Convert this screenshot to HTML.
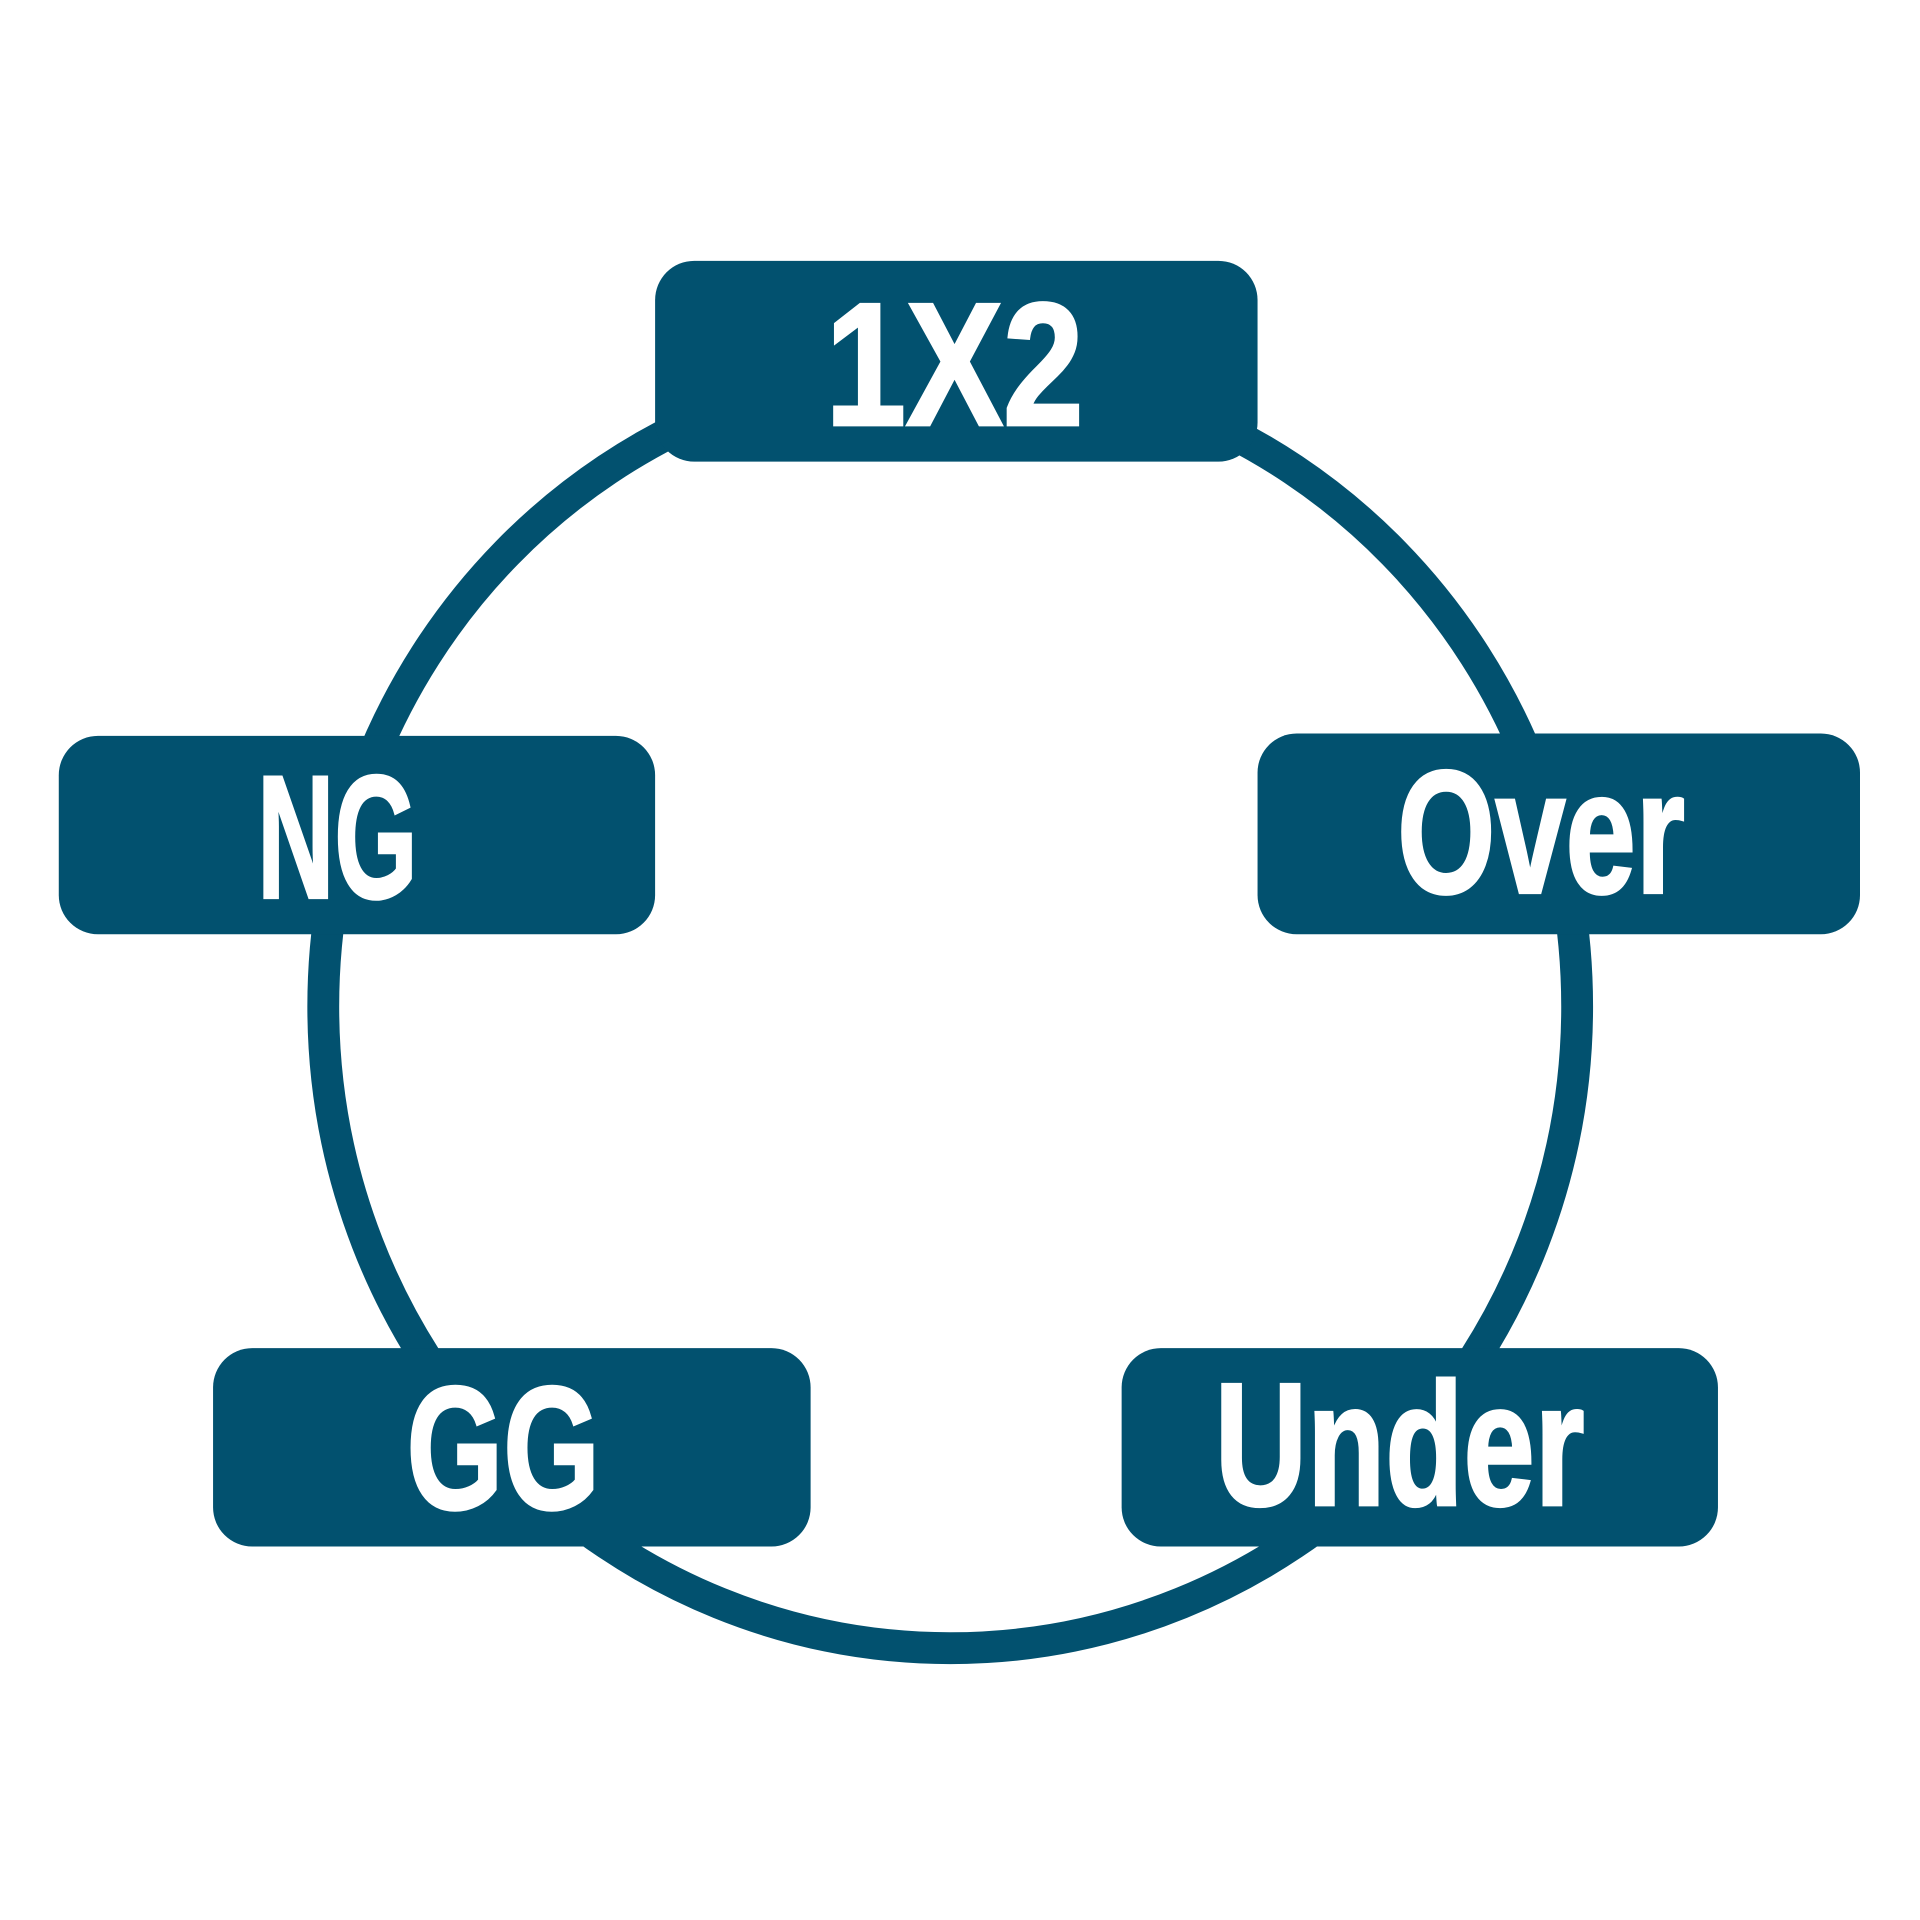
<!DOCTYPE html>
<html><head><meta charset="utf-8"><style>
html,body{margin:0;padding:0;background:#fff;}
svg{display:block;}
</style></head><body>
<svg width="1920" height="1920" viewBox="0 0 1568 1568" xmlns="http://www.w3.org/2000/svg">
<rect width="1568" height="1568" fill="#fff"/>
<ellipse cx="776" cy="822" rx="512" ry="524" fill="none" stroke="#02516F" stroke-width="26"/>
<g fill="#02516F">
<rect x="535" y="213" width="492" height="164" rx="32"/>
<rect x="48" y="601" width="487" height="162" rx="32"/>
<rect x="1027" y="599" width="492" height="164" rx="32"/>
<rect x="174" y="1101" width="488" height="162" rx="32"/>
<rect x="916" y="1101" width="487" height="162" rx="32"/>
</g>
<g fill="#fff" stroke="#fff" stroke-width="2.5" font-family="'Liberation Sans', sans-serif" font-weight="bold" font-size="143">
<text x="674" y="347" textLength="211" lengthAdjust="spacingAndGlyphs">1X2</text>
<text x="210" y="733" textLength="131" lengthAdjust="spacingAndGlyphs">NG</text>
<text x="1141" y="729" textLength="235" lengthAdjust="spacingAndGlyphs">Over</text>
<text x="332" y="1232" textLength="158" lengthAdjust="spacingAndGlyphs">GG</text>
<text x="992" y="1229" textLength="302" lengthAdjust="spacingAndGlyphs">Under</text>
</g>
</svg>
</body></html>
